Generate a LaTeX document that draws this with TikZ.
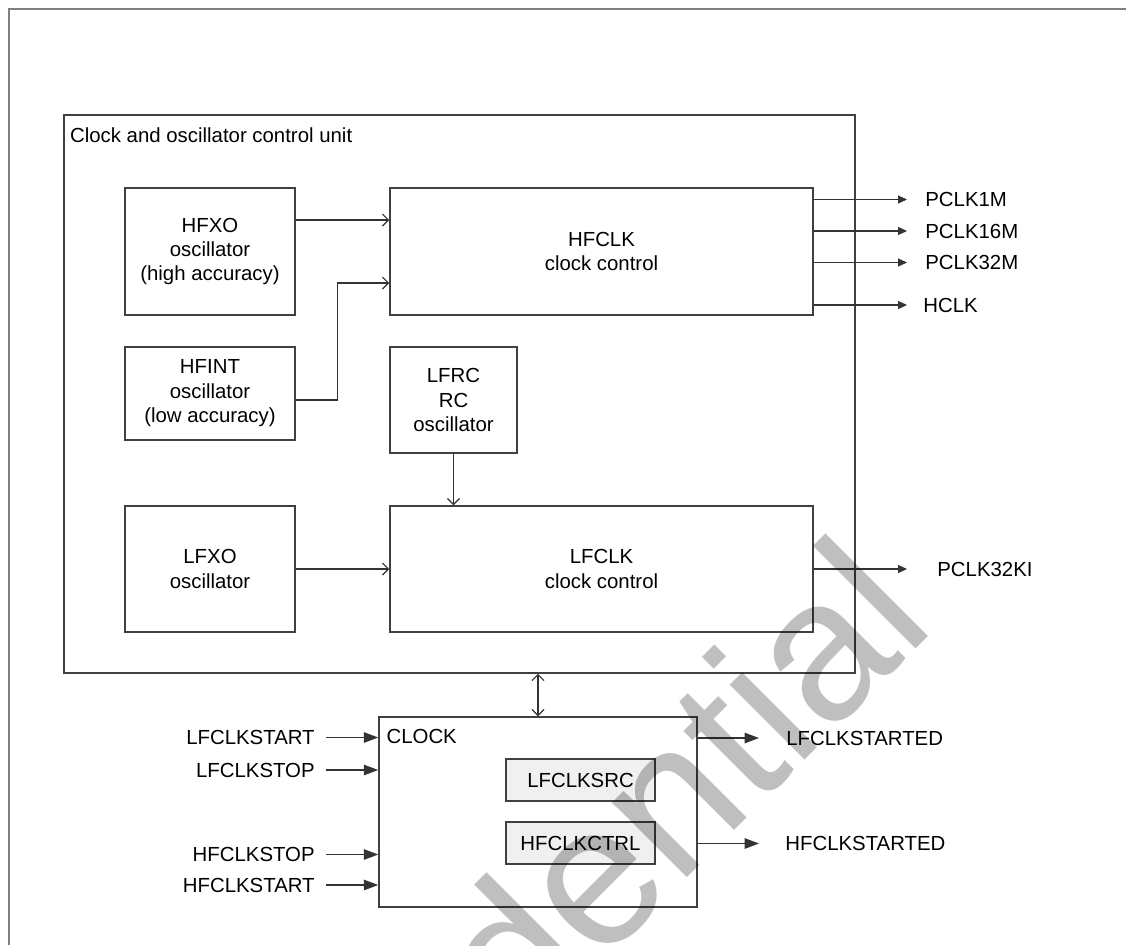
\documentclass[tikz,border=0pt]{standalone}
\usepackage{fontspec}
\setmainfont{Liberation Sans}
\usetikzlibrary{arrows.meta}

\begin{document}
\begin{tikzpicture}[
  font=\fontsize{11.6}{13.9}\selectfont,
  >={Straight Barb[length=1.2mm,width=2.4mm]},
  blk/.style={draw=black!75, line width=0.3mm, align=center, inner sep=0pt},
  reg/.style={blk, fill=black!6, minimum width=29.8mm, minimum height=8.4mm},
  lnk/.style={draw=black!80, line width=0.22mm},
  sig/.style={draw=black!80, line width=0.22mm, -{Triangle[length=1.8mm,width=1.6mm]}},
  sigbig/.style={draw=black!80, line width=0.3mm, -{Triangle[length=2.9mm,width=2.1mm]}},
  outl/.style={anchor=west, inner ysep=0pt},
  inl/.style={anchor=east, inner ysep=0pt, inner xsep=2.2mm}
]
\useasboundingbox (0,0) rectangle (225.2mm,-189mm);
\draw[black!50, line width=0.4mm] (1.8mm,-189mm) -- (1.8mm,-1.8mm) -- (225.2mm,-1.8mm);

\node[blk, minimum width=158.2mm, minimum height=111.6mm] (cu) at (91.9mm,-78.8mm) {};
\node[anchor=north west, inner sep=0pt] (cutitle) at ([xshift=1.3mm,yshift=-2.6mm]cu.north west)
  {Clock and oscillator control unit};

\node[blk, minimum width=34mm, minimum height=25.4mm] (hfxo) at (42mm,-50.3mm)
  {HFXO\\ oscillator\\ (high accuracy)};
\node[blk, minimum width=34mm, minimum height=18.6mm] (hfint) at (42mm,-78.7mm)
  {HFINT\\ oscillator\\ (low accuracy)};
\node[blk, minimum width=84.6mm, minimum height=25.4mm] (hfclk) at (120.3mm,-50.3mm)
  {HFCLK\\ clock control};
\node[blk, minimum width=25.4mm, minimum height=21.2mm] (lfrc) at (90.7mm,-80mm)
  {LFRC\\ RC\\ oscillator};
\node[blk, minimum width=34mm, minimum height=25.2mm] (lfxo) at (42mm,-113.8mm)
  {LFXO\\ oscillator};
\node[blk, minimum width=84.6mm, minimum height=25.2mm] (lfclk) at (120.3mm,-113.8mm)
  {LFCLK\\ clock control};

\node[blk, minimum width=63.6mm, minimum height=38mm] (clk) at (107.6mm,-162.4mm) {};
\node[anchor=north west, inner sep=0pt] (clktitle) at ([xshift=1.6mm,yshift=-2.5mm]clk.north west)
  {CLOCK};
\node[reg] (lfsrc) at (116.1mm,-156mm) {LFCLKSRC};
\node[reg] (hfctrl) at (116.1mm,-168.6mm) {HFCLKCTRL};

\node[outl, inner xsep=3.6mm] (pclk1m) at (181.4mm,-39.9mm) {PCLK1M};
\node[outl, inner xsep=3.6mm] (pclk16m) at (181.4mm,-46.2mm) {PCLK16M};
\node[outl, inner xsep=3.6mm] (pclk32m) at (181.4mm,-52.5mm) {PCLK32M};
\node[outl, inner xsep=3.2mm] (hclk) at (181.4mm,-61mm) {HCLK};
\node[outl, inner xsep=6mm] (pclk32ki) at (181.4mm,-113.8mm) {PCLK32KI};

\node[inl] (lfstart) at (65.2mm,-147.5mm) {LFCLKSTART};
\node[inl] (lfstop) at (65.2mm,-154mm) {LFCLKSTOP};
\node[inl] (hfstop) at (65.2mm,-170.9mm) {HFCLKSTOP};
\node[inl] (hfstart) at (65.2mm,-177mm) {HFCLKSTART};
\node[outl, inner xsep=5.4mm] (lfstarted) at (151.8mm,-147.6mm) {LFCLKSTARTED};
\node[outl, inner xsep=5.2mm] (hfstarted) at (151.8mm,-168.7mm) {HFCLKSTARTED};

\draw[lnk, ->] ([yshift=6.3mm]hfxo.east) -- ([yshift=6.3mm]hfclk.west);
\draw[lnk, ->] ([yshift=-1.3mm]hfint.east) -- ++(8.3mm,0) |- ([yshift=-6.3mm]hfclk.west);
\draw[lnk, ->] (lfrc.south) -- (lfrc.south |- lfclk.north);
\draw[lnk, ->] (lfxo.east) -- (lfclk.west);
\draw[lnk, <->] (cu.south -| clk.north) -- (clk.north);

\draw[sig] (hfclk.east |- pclk1m.west) -- (pclk1m.west);
\draw[sig] (hfclk.east |- pclk16m.west) -- (pclk16m.west);
\draw[sig] (hfclk.east |- pclk32m.west) -- (pclk32m.west);
\draw[sig] (hfclk.east |- hclk.west) -- (hclk.west);
\draw[sig] (lfclk.east |- pclk32ki.west) -- (pclk32ki.west);

\draw[sigbig] (lfstart.east) -- (lfstart.east -| clk.west);
\draw[sigbig] (lfstop.east) -- (lfstop.east -| clk.west);
\draw[sigbig] (hfstop.east) -- (hfstop.east -| clk.west);
\draw[sigbig] (hfstart.east) -- (hfstart.east -| clk.west);
\draw[sigbig] (clk.east |- lfstarted.west) -- (lfstarted.west);
\draw[sigbig] (clk.east |- hfstarted.west) -- (hfstarted.west);

\begin{scope}
\clip (0,0) rectangle (225.2mm,-189mm);
\node[rotate=45, anchor=base east, inner sep=0pt, text=black, text opacity=0.25,
  font=\fontsize{114}{114}\selectfont] (wmark) at (187.6mm,-125.4mm) {Confidential};
\end{scope}
\end{tikzpicture}
\end{document}
